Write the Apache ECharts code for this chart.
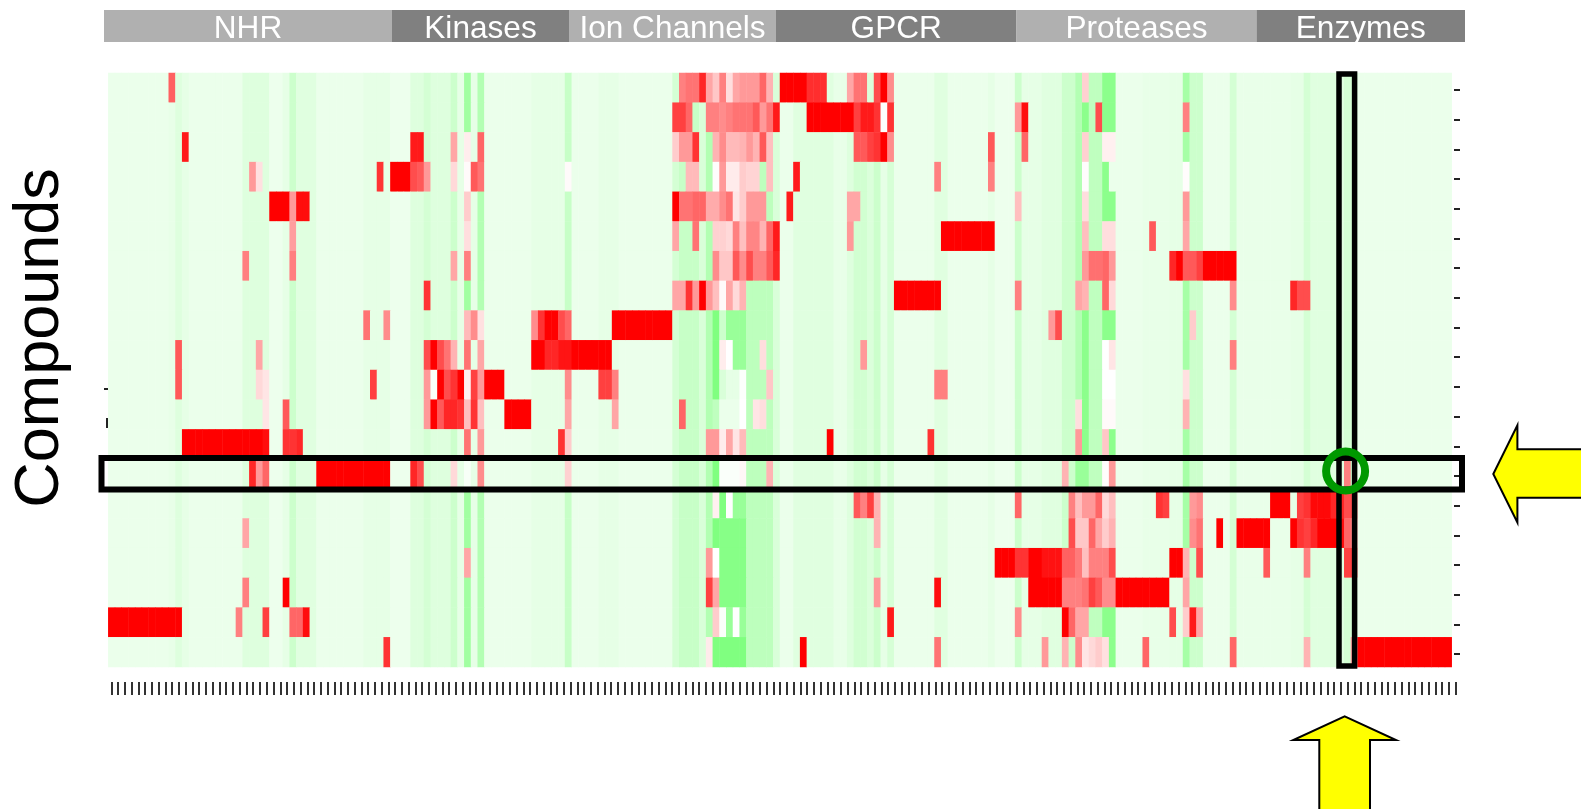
<!DOCTYPE html>
<html><head><meta charset="utf-8">
<style>html,body{margin:0;padding:0;background:#fff}#c{width:1581px;height:809px;filter:blur(0.45px)}</style>
<script src="https://cdn.jsdelivr.net/npm/echarts@6/dist/echarts.min.js"></script>
</head><body><div id="c"></div>
<script>
const columnCount = 200;
const rowCount = 20;
const groupLabels = ['NHR','Kinases','Ion Channels','GPCR','Proteases','Enzymes'];
const axisTitle = 'Compounds';
// Activity runs: [firstColumn, lastColumn, value]; red = +1, white = 0, green = -1
const columnBaseline = [[0,8,-.08],[9,9,-.09],[10,10,-.13],[11,11,-.1],[12,19,-.08],[20,23,-.13],[24,25,-.07],[26,26,-.1],[27,27,-.2],[28,30,-.12],[31,37,-.08],[38,41,-.1],[42,44,-.07],[45,46,-.13],[47,47,-.17],[48,50,-.13],[51,51,-.2],[52,52,-.1],[53,53,-.37],[54,54,-.1],[55,55,-.3],[56,62,-.08],[63,67,-.1],[68,68,-.22],[69,72,-.08],[73,75,-.1],[76,83,-.08],[84,84,-.17],[85,87,-.22],[88,88,-.15],[89,89,-.3],[90,90,-.5],[91,91,-.3],[92,94,-.4],[95,98,-.26],[99,99,-.15],[100,101,-.08],[102,107,-.12],[108,109,-.09],[110,110,-.13],[111,112,-.18],[113,113,-.14],[114,114,-.2],[115,115,-.1],[116,116,-.16],[117,122,-.08],[123,124,-.12],[125,130,-.08],[131,131,-.1],[132,134,-.07],[135,135,-.2],[136,138,-.1],[139,141,-.12],[142,143,-.2],[144,144,-.3],[145,145,-.45],[146,147,-.25],[148,149,-.45],[150,153,-.08],[154,157,-.09],[158,159,-.1],[160,160,-.35],[161,162,-.2],[163,166,-.08],[167,167,-.17],[168,175,-.085],[176,177,-.1],[178,178,-.17],[179,183,-.12],[184,185,-.17],[186,199,-.08]];
const row00 = [[9,9,.62],[85,85,.5],[86,87,.55],[88,88,.85],[89,89,.35],[90,90,.22],[91,91,.5],[92,92,.13],[93,93,.35],[94,96,.4],[97,97,.6],[98,98,.3],[100,103,1],[104,106,.82],[110,110,.35],[111,112,.55],[114,114,.7],[115,115,1],[116,116,.45],[145,145,.18]];
const row01 = [[84,85,.75],[86,86,.6],[89,90,.5],[91,91,.45],[92,92,.5],[93,95,.55],[96,96,.65],[97,97,.4],[98,98,.55],[99,99,.9],[104,110,1],[111,111,.75],[112,113,.9],[114,114,.8],[115,115,-.01],[116,116,.8],[135,135,.4],[136,136,.95],[147,147,.7],[160,160,.5]];
const row02 = [[11,11,.9],[45,46,.9],[51,51,.35],[53,53,.07],[55,55,.6],[84,84,.2],[85,86,.4],[87,87,.8],[90,90,.3],[91,91,.45],[92,93,.27],[94,94,.3],[95,95,.4],[96,96,.3],[97,97,.65],[98,98,.25],[111,112,.65],[113,113,.75],[114,114,.8],[115,115,1],[116,116,.45],[131,131,.65],[136,136,.6],[145,145,.18],[148,149,.06]];
const row03 = [[21,21,.4],[22,22,.12],[40,40,.8],[42,44,1],[45,45,.7],[46,46,.65],[47,47,.4],[51,51,.15],[53,53,.02],[54,54,.65],[55,55,.55],[68,68,.02],[86,87,.27],[90,90,.01],[91,91,.4],[92,93,.08],[94,94,.2],[95,96,.17],[98,98,.25],[102,102,.9],[123,123,.5],[131,131,.5],[145,145,.01],[149,149,-.08],[160,160,.01]];
const row04 = [[24,26,1],[27,27,.4],[28,29,.95],[53,53,.2],[84,84,1],[85,86,.55],[87,88,.6],[89,90,.33],[91,91,.45],[92,92,.55],[93,93,.1],[94,94,.2],[95,97,.4],[101,101,.9],[110,111,.35],[135,135,.25],[145,145,.13],[160,160,.4]];
const row05 = [[27,27,.38],[53,53,.13],[84,84,.35],[87,87,.55],[90,91,.18],[92,92,.15],[93,93,.5],[94,94,.25],[95,96,.48],[97,97,.3],[98,98,.6],[99,99,.9],[110,110,.4],[124,131,1],[145,145,.25],[148,149,.13],[155,155,.65],[160,160,.35]];
const row06 = [[20,20,.5],[27,27,.5],[51,51,.35],[53,53,.5],[90,90,.45],[91,92,.22],[93,93,.65],[94,94,.45],[95,95,.7],[96,97,.5],[98,98,.65],[99,99,.85],[145,145,.4],[146,147,.56],[148,148,.6],[149,149,.4],[158,158,.85],[159,159,1],[160,161,.65],[162,162,.75],[163,167,1]];
const row07 = [[47,47,.8],[84,85,.35],[86,86,.8],[87,87,.4],[88,88,1],[89,89,.4],[90,90,.25],[91,91,.02],[92,92,.35],[93,93,.15],[94,94,.3],[117,123,1],[135,135,.5],[144,144,.35],[145,145,.3],[148,148,.6],[149,149,.15],[167,167,.45],[176,176,.85],[177,178,.7]];
const row08 = [[38,38,.55],[41,41,.45],[53,53,.27],[54,54,.45],[55,55,.12],[63,63,.45],[64,64,.8],[65,66,1],[67,67,.7],[68,68,.6],[75,83,1],[91,91,-.2],[140,140,.4],[141,141,.7],[161,161,.2]];
const row09 = [[10,10,.65],[22,22,.35],[47,47,.7],[48,48,1],[49,49,.7],[50,50,.55],[51,51,.3],[53,53,.55],[55,55,.35],[63,64,1],[65,66,.85],[67,68,.92],[69,74,1],[91,91,.07],[92,92,0],[97,97,.13],[112,112,.4],[148,148,0],[149,149,.1],[167,167,.5]];
const row10 = [[10,10,.65],[22,22,.15],[23,23,.1],[39,39,.75],[47,47,.4],[48,48,-.02],[49,49,1],[50,50,.7],[51,51,.8],[52,52,1],[53,53,.05],[54,54,.75],[55,55,.4],[56,58,1],[68,68,.45],[73,74,.75],[75,75,.5],[91,91,-.15],[92,93,-.1],[94,94,-.01],[98,98,.22],[123,124,.5],[148,149,0],[160,160,.12]];
const row11 = [[23,23,.1],[26,26,.65],[47,47,.4],[48,48,1],[49,49,.65],[50,51,.85],[52,52,.8],[53,53,.25],[54,54,.8],[55,55,.25],[59,62,1],[68,68,.35],[75,75,.35],[85,85,.6],[90,90,-.25],[91,93,-.08],[94,94,0],[96,96,.1],[97,97,.13],[144,144,.13],[148,149,.02],[160,160,.3]];
const row12 = [[11,22,1],[23,23,.95],[26,27,.8],[28,28,.85],[53,53,.55],[55,55,.4],[67,67,.8],[68,68,.2],[89,90,.4],[91,91,.07],[92,92,.35],[93,93,.1],[94,94,.27],[107,107,1],[122,122,.8],[144,144,.4],[148,148,.22]];
const row13 = [[21,21,.85],[22,22,.4],[23,23,.6],[31,41,1],[45,45,.85],[46,46,.7],[51,51,.15],[53,53,-.03],[55,55,.45],[68,68,.18],[91,93,-.02],[94,94,.03],[98,98,.3],[142,142,.3],[144,145,-.4],[148,148,.01],[149,149,.4],[184,184,.5]];
const row14 = [[90,90,.06],[91,91,-.5],[92,92,0],[111,111,.65],[112,112,.5],[113,113,.75],[114,114,.3],[135,135,.6],[143,143,.5],[144,144,.25],[145,146,.4],[147,147,.6],[148,148,.15],[149,149,.25],[156,156,.8],[157,157,.75],[161,161,.4],[162,162,.45],[173,175,1],[177,177,.75],[178,178,.8],[179,181,.97],[182,183,.85],[184,185,.7]];
const row15 = [[20,20,.35],[91,94,-.47],[114,114,.3],[143,143,.7],[144,145,.22],[146,146,.6],[147,147,.35],[148,148,.2],[149,149,.3],[161,161,.45],[162,162,.55],[165,165,1],[168,172,1],[176,176,1],[177,177,.8],[178,178,.75],[179,179,.85],[180,182,1],[183,183,.95],[184,184,.6],[185,185,.5]];
const row16 = [[53,53,.35],[89,89,.4],[90,90,0],[91,94,-.47],[132,134,1],[135,136,.8],[137,138,1],[139,141,.93],[142,143,.62],[144,144,.52],[145,145,.25],[146,147,.5],[148,148,.5],[149,149,.7],[158,159,1],[160,160,.3],[162,162,.7],[172,172,.65],[178,178,.5],[184,185,.75]];
const row17 = [[20,20,.5],[26,26,1],[89,89,.75],[90,90,.35],[91,94,-.47],[114,114,.4],[123,123,.95],[137,141,1],[142,144,.5],[145,145,.55],[146,146,.75],[147,147,.65],[148,149,.45],[150,157,1],[160,160,.35]];
const row18 = [[0,10,1],[19,19,.5],[23,23,.75],[27,28,.6],[29,29,.95],[90,90,.2],[91,91,-.02],[93,93,0],[116,116,.9],[135,135,.45],[142,142,1],[143,143,.6],[144,145,.35],[158,158,.7],[160,160,.2],[161,161,.9],[162,162,.35]];
const row19 = [[41,41,.8],[89,89,.08],[90,94,-.5],[103,103,1],[123,123,.55],[139,139,.4],[142,142,.3],[144,144,.45],[145,145,.1],[146,146,.15],[147,147,.2],[148,148,.12],[154,154,.6],[167,167,.6],[178,178,.3],[185,185,.35],[186,199,1]];
const rows = [row00,row01,row02,row03,row04,row05,row06,row07,row08,row09,row10,row11,row12,row13,row14,row15,row16,row17,row18,row19];

const base = new Array(columnCount).fill(-0.08);
columnBaseline.forEach(([a,b,v]) => { for (let c=a;c<=b;c++) base[c]=v; });
const cells = [];
rows.forEach((runs,r) => {
  const line = base.slice();
  runs.forEach(([a,b,v]) => { for (let c=a;c<=b;c++) line[c]=v; });
  line.forEach((v,c) => cells.push([c,r,v]));
});
const xCats = Array.from({length:columnCount},(_,i)=>'T'+(i+1));
const yCats = Array.from({length:rowCount},(_,i)=>'C'+(i+1));

const F = '"Liberation Sans", Arial, sans-serif';
const bands = [[104,392,'#b0b0b0'],[392,569,'#808080'],[569,776,'#b0b0b0'],[776,1016.5,'#808080'],[1016.5,1256.5,'#b0b0b0'],[1256.5,1465,'#808080']];
const graphic = [];
bands.forEach(([a,b,col],i) => {
  graphic.push({type:'rect',z:100,shape:{x:a,y:10,width:b-a,height:32},style:{fill:col}});
  graphic.push({type:'text',z:101,x:(a+b)/2,y:29,style:{text:groupLabels[i],fill:'#fff',font:'31.6px '+F,align:'center',verticalAlign:'middle'}});
});
graphic.push({type:'text',z:101,x:41,y:338,rotation:Math.PI/2,style:{text:axisTitle,fill:'#000',font:'63px '+F,align:'center',verticalAlign:'middle'}});
graphic.push({type:'rect',z:100,shape:{x:104,y:388,width:4,height:2},style:{fill:'#222'}});
graphic.push({type:'rect',z:100,shape:{x:106,y:418,width:2,height:10},style:{fill:'#222'}});
graphic.push({type:'rect',z:110,shape:{x:101.5,y:458,width:1360.5,height:31.5},style:{fill:'none',stroke:'#000',lineWidth:6}});
graphic.push({type:'rect',z:110,shape:{x:1339,y:74,width:15.6,height:592},style:{fill:'none',stroke:'#000',lineWidth:5.5}});
graphic.push({type:'circle',z:111,shape:{cx:1345.6,cy:471,r:19.5},style:{fill:'none',stroke:'#009900',lineWidth:8}});
graphic.push({type:'polygon',z:112,shape:{points:[[1493.3,474],[1517.4,425.3],[1517.4,449.3],[1590,449.3],[1590,497.7],[1517.4,497.7],[1517.4,522.5]]},style:{fill:'#ffff00',stroke:'#000',lineWidth:2}});
graphic.push({type:'polygon',z:112,shape:{points:[[1344.7,716.3],[1396,740],[1370,740],[1370,815],[1319.3,815],[1319.3,740],[1293.3,740]]},style:{fill:'#ffff00',stroke:'#000',lineWidth:2}});

const chart = echarts.init(document.getElementById('c'),null,{renderer:'canvas'});
chart.setOption({
  animation:false,
  backgroundColor:'#fff',
  grid:[{left:108.3,top:73,width:1343.4,height:594},{left:108,top:75,width:1351,height:594}],
  xAxis:[
    {type:'category',data:xCats,gridIndex:0,show:false},
    {type:'category',data:xCats,gridIndex:1,position:'bottom',offset:13,splitArea:{show:false},splitLine:{show:false},
     axisLine:{show:false},axisTick:{show:true,alignWithLabel:true,interval:0,length:13,lineStyle:{color:'#333',width:2}},axisLabel:{show:false}}
  ],
  yAxis:[
    {type:'category',data:yCats,gridIndex:0,inverse:true,show:false},
    {type:'category',data:yCats,gridIndex:1,inverse:true,position:'right',offset:-5,splitArea:{show:false},splitLine:{show:false},
     axisLine:{show:false},axisTick:{show:true,alignWithLabel:true,interval:0,length:6,lineStyle:{color:'#222',width:2}},axisLabel:{show:false}}
  ],
  visualMap:{show:false,min:-1,max:1,dimension:2,seriesIndex:0,inRange:{color:['#00ff00','#ffffff','#ff0000']}},
  series:[{type:'heatmap',data:cells,xAxisIndex:0,yAxisIndex:0,progressive:0,itemStyle:{borderWidth:0},emphasis:{disabled:true}}],
  graphic:graphic
});
</script></body></html>
